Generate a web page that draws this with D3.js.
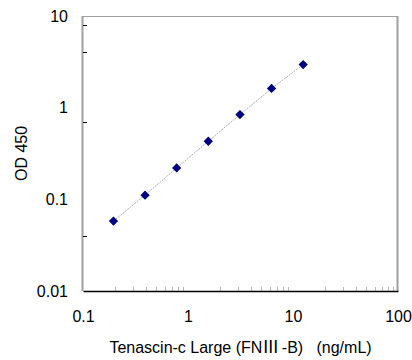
<!DOCTYPE html>
<html>
<head>
<meta charset="utf-8">
<script src="https://cdn.jsdelivr.net/npm/d3@7"></script>
<style>
  body { margin: 0; background: #fff; }
  text { font-family: Arial, "Liberation Sans", "Noto Sans CJK JP", sans-serif; fill: #000; }
</style>
</head>
<body>
<script>
// standard curve values
var concentration = [0.195, 0.39, 0.78, 1.56, 3.125, 6.25, 12.5];
var od450 = [0.058, 0.111, 0.22, 0.43, 0.84, 1.62, 2.95];
var xTicks = [0.1, 1, 10, 100];
var yTicks = [0.01, 0.1, 1, 10];
var xMinorTicks = [2, 3, 4, 5, 6, 7, 8, 9, 20, 30, 40, 50, 60, 70, 80, 90]
  .map(function (d) { return d / 10; })
  .concat([20, 30, 40, 50, 60, 70, 80, 90]);
var yMinorTicks = [0.04, 0.7, 4, 8];
var xTitleParts = ["Tenascin-c Large (FN", "\u2162", "-B)\u00a0\u00a0 (ng/mL)"];
var yTitle = "OD 450";

window.onload = () => {
  var margin = { top: 16, right: 14, bottom: 69, left: 83 },
    width = 412 - margin.left - margin.right,
    height = 360 - margin.top - margin.bottom;

  var x = d3.scaleLog().domain([0.1, 100]).range([0, width]);
  var y = d3.scaleLog().domain([0.01, 10]).range([height, 0]);

  var svg = d3
    .select("body")
    .append("svg")
    .attr("width", width + margin.left + margin.right)
    .attr("height", height + margin.top + margin.bottom)
    .append("g")
    .attr("transform", "translate(" + margin.left + "," + margin.top + ")");

  // plot area border (top / right / left gray)
  svg.append("line")
    .attr("x1", 0).attr("x2", width).attr("y1", 0.5).attr("y2", 0.5)
    .attr("stroke", "#a0a0a0").attr("stroke-width", 1);
  svg.append("line")
    .attr("x1", width - 0.5).attr("x2", width - 0.5).attr("y1", 0).attr("y2", height)
    .attr("stroke", "#a0a0a0").attr("stroke-width", 2);
  svg.append("line")
    .attr("x1", -0.5).attr("x2", -0.5).attr("y1", 0).attr("y2", height)
    .attr("stroke", "#a0a0a0").attr("stroke-width", 2);

  // minor ticks
  svg.selectAll(".xminor")
    .data(xMinorTicks)
    .enter()
    .append("line")
    .attr("class", "xminor")
    .attr("x1", function (d) { return Math.round(x(d)) + 0.5; })
    .attr("x2", function (d) { return Math.round(x(d)) + 0.5; })
    .attr("y1", height)
    .attr("y2", height - 4)
    .attr("stroke", "#b8b8b8");
  svg.selectAll(".yminor")
    .data(yMinorTicks)
    .enter()
    .append("line")
    .attr("class", "yminor")
    .attr("x1", 0)
    .attr("x2", 4)
    .attr("y1", function (d) { return Math.round(y(d)) + 0.5; })
    .attr("y2", function (d) { return Math.round(y(d)) + 0.5; })
    .attr("stroke", "#000");

  // x axis
  var xAxis = svg.append("g")
    .attr("transform", "translate(0," + height + ")")
    .call(d3.axisBottom(x).tickValues(xTicks).tickSize(0).tickPadding(20)
      .tickFormat(function (d) { return String(d); }));
  xAxis.select(".domain").attr("stroke", "#000").attr("stroke-width", 1.5);
  xAxis.selectAll("text").style("font-size", "16px").attr("fill", "#000");

  // y axis
  var yAxis = svg.append("g")
    .call(d3.axisLeft(y).tickValues(yTicks).tickSize(0).tickPadding(15)
      .tickFormat(function (d) { return String(d); }));
  yAxis.select(".domain").remove();
  yAxis.selectAll("text").style("font-size", "16px").attr("fill", "#000");

  // axis titles
  var xt = svg.append("text")
    .attr("x", width / 2)
    .attr("y", height + 62)
    .style("text-anchor", "middle")
    .style("font-size", "16px");
  xt.selectAll("tspan")
    .data(xTitleParts)
    .enter()
    .append("tspan")
    .attr("dx", function (d, i) { return i === 2 ? 1 : null; })
    .style("font-family", function (d, i) {
      return i === 1 ? "'Noto Sans CJK JP'" : null;
    })
    .style("font-size", function (d, i) { return i === 1 ? "17px" : null; })
    .style("letter-spacing", function (d, i) { return i === 1 ? "1.5px" : null; })
    .text(function (d) { return d; });

  svg.append("text")
    .attr("transform", "rotate(-90)")
    .attr("x", -height / 2)
    .attr("y", -margin.left + 27)
    .style("text-anchor", "middle")
    .style("font-size", "16px")
    .text(yTitle);

  // connecting line
  var pts = concentration.map(function (c, i) { return [c, od450[i]]; });
  svg.append("path")
    .datum(pts)
    .attr("fill", "none")
    .attr("stroke", "#b0b0b0")
    .attr("stroke-width", 1)
    .attr("stroke-dasharray", "2,1")
    .attr("d", d3.line()
      .x(function (d) { return x(d[0]); })
      .y(function (d) { return y(d[1]); }));

  // diamond markers
  svg.selectAll(".dot")
    .data(pts)
    .enter()
    .append("path")
    .attr("class", "dot")
    .attr("d", d3.symbol().type(d3.symbolDiamond2).size(55))
    .attr("transform", function (d) {
      return "translate(" + x(d[0]) + "," + y(d[1]) + ")";
    })
    .attr("fill", "#000080");
};
</script>
</body>
</html>
